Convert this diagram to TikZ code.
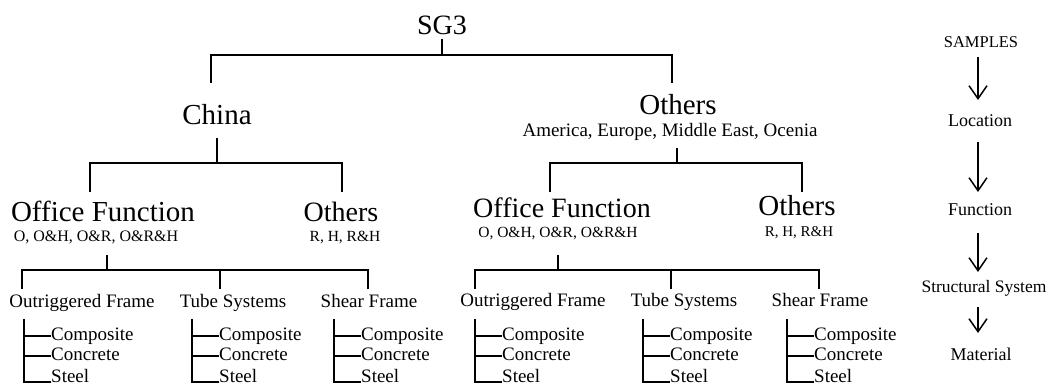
\documentclass[tikz,border=0pt]{standalone}
\usepackage{fontspec}
\setmainfont{Liberation Serif}
\usetikzlibrary{arrows.meta}
\begin{document}
\begin{tikzpicture}[x=1pt,y=-1pt,
  lbl/.style={anchor=base,inner sep=0pt},
  bigA/.style={lbl,font=\fontsize{29}{30}\selectfont},
  bigB/.style={lbl,font=\fontsize{28}{30}\selectfont},
  subl/.style={lbl,font=\fontsize{15.5}{17}\selectfont},
  mid/.style={lbl,font=\fontsize{19}{21}\selectfont},
  mat/.style={anchor=base west,inner sep=0pt,font=\fontsize{19}{21}\selectfont,text height=13.3pt,text depth=3.8pt},
  side/.style={lbl,font=\fontsize{18}{20}\selectfont},
  ln/.style={line width=2pt},
  arr/.style={line width=1.5pt,-{Straight Barb[length=13pt,width=18pt,line width=1.5pt]}}
]
\useasboundingbox (0,0) rectangle (1050,387);

% level 0-1
\node[bigB] (sg3) at (442,35) {SG3};
\node[bigA] (china) at (217,125) {China};
\node[bigA] (othA) at (678,115) {Others};
\node[mid] (reg) at (670,137) {America, Europe, Middle East, Ocenia};

\draw[ln] ([yshift=-4pt]sg3.base) -- ++(0,16) -| ([xshift=-6pt,yshift=42pt]china.base);
\draw[ln] ([yshift=-4pt]sg3.base) -- ++(0,16) -| ([xshift=-6pt,yshift=32pt]othA.base);

% level 2
\node[bigA] (offL) at (103,222) {Office Function};
\node[subl,font=\fontsize{16}{17}\selectfont] (subL) at (96,242) {O, O\&H, O\&R, O\&R\&H};
\node[bigB] (othL) at (341,222) {Others};
\node[subl] (rhL) at (345,242) {R, H, R\&H};

\node[bigB] (offR) at (562,218) {Office Function};
\node[subl] (subR) at (558,238) {O, O\&H, O\&R, O\&R\&H};
\node[bigA] (othR) at (797,216) {Others};
\node[subl,font=\fontsize{15}{17}\selectfont] (rhR) at (799,237) {R, H, R\&H};

\draw[ln] ([yshift=-13pt]china.base) -- ++(0,25) -| ([xshift=-13pt,yshift=30pt]offL.base);
\draw[ln] ([yshift=-13pt]china.base) -- ++(0,25) -| ([xshift=1pt,yshift=30pt]othL.base);
\draw[ln] ([xshift=7pt,yshift=-11pt]reg.base) -- ++(0,15) -| ([xshift=-12pt,yshift=26pt]offR.base);
\draw[ln] ([xshift=7pt,yshift=-11pt]reg.base) -- ++(0,15) -| ([xshift=5pt,yshift=24pt]othR.base);

% level 3
\node[mid] (outL) at (82,308) {Outriggered Frame};
\node[mid] (tubeL) at (233,308) {Tube Systems};
\node[mid] (shearL) at (369,308) {Shear Frame};
\node[mid] (outR) at (533,307) {Outriggered Frame};
\node[mid] (tubeR) at (684,307) {Tube Systems};
\node[mid] (shearR) at (820,307) {Shear Frame};

\draw[ln] ([xshift=11pt,yshift=-13pt]subL.base) -- ++(0,15) -| ([xshift=-60pt,yshift=19pt]outL.base);
\draw[ln] ([xshift=11pt,yshift=-13pt]subL.base) -- ++(0,15) -| ([xshift=-13pt,yshift=19pt]tubeL.base);
\draw[ln] ([xshift=11pt,yshift=-13pt]subL.base) -- ++(0,15) -| ([xshift=-1pt,yshift=19pt]shearL.base);
\draw[ln] ([yshift=-17pt]subR.base) -- ++(0,15) -| ([xshift=-58pt,yshift=18pt]outR.base);
\draw[ln] ([yshift=-17pt]subR.base) -- ++(0,15) -| ([xshift=-13pt,yshift=18pt]tubeR.base);
\draw[ln] ([yshift=-17pt]subR.base) -- ++(0,15) -| ([xshift=-1pt,yshift=18pt]shearR.base);

% level 4: materials
\foreach \s/\bx in {oA/24, tA/192, sA/334, oB/475, tB/643, sB/787} {
  \coordinate (\s-top) at (\bx,319);
  \node[mat] (\s-c1) at (\bx+27,340.5) {Composite};
  \node[mat] (\s-c2) at (\bx+27,360.5) {Concrete};
  \node[mat] (\s-c3) at (\bx+27,383) {Steel};
  \draw[ln] (\s-top) |- ([yshift=1pt]\s-c3.base west);
  \draw[ln] (\s-top |- \s-c1.west) -- (\s-c1.west);
  \draw[ln] (\s-top |- \s-c2.west) -- (\s-c2.west);
}

% legend column
\node[side,font=\fontsize{16.5}{18}\selectfont] (samp) at (981,48) {SAMPLES};
\node[side] (loc) at (980,127) {Location};
\node[side] (fun) at (980,216) {Function};
\node[side,font=\fontsize{17.5}{19}\selectfont] (sts) at (984,293) {Structural System};
\node[side] (matl) at (981,361) {Material};

\draw[arr] ([xshift=-3pt,yshift=-9pt]samp.base) -- ([xshift=-2pt,yshift=27pt]loc.base);
\draw[arr] ([xshift=-2pt,yshift=-15pt]loc.base) -- ([xshift=-2pt,yshift=24pt]fun.base);
\draw[arr] ([xshift=-2pt,yshift=-17pt]fun.base) -- ([xshift=-6pt,yshift=21pt]sts.base);
\draw[arr] ([xshift=-6pt,yshift=-14pt]sts.base) -- ([xshift=-3pt,yshift=28pt]matl.base);
\end{tikzpicture}
\end{document}
